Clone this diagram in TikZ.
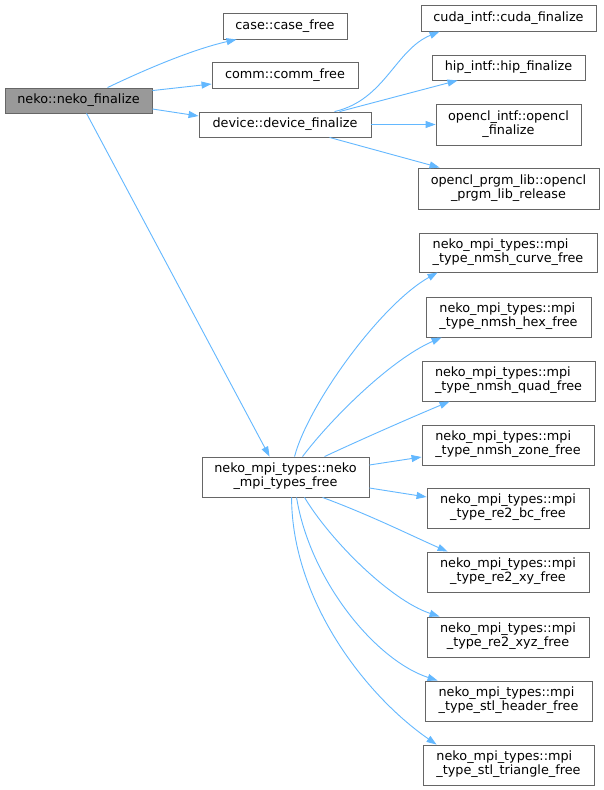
\documentclass[tikz,border=0pt]{standalone}
\usepackage{fontspec}
\setmainfont{DejaVu Sans}
\usetikzlibrary{arrows.meta}
\definecolor{edgeblue}{HTML}{63B8FF}
\definecolor{boxgray}{HTML}{666666}
\definecolor{rootfill}{HTML}{999999}
\newcommand\twol[2]{\begin{tabular}{@{}l@{}}#1\\\hfill#2\hfill\null\end{tabular}}
\begin{document}
\begin{tikzpicture}[x=1pt,y=-1pt,
 box/.style={draw=boxgray, line width=0.9pt, fill=white, inner sep=0pt, minimum height=25pt, font=\fontsize{12.8}{14}\selectfont, align=center},
 tall/.style={box, minimum height=40pt},
 link/.style={draw=edgeblue, line width=0.9pt, -{Triangle[length=10pt,width=7pt]}}]
\fill[white] (0,0) rectangle (604,790);
\useasboundingbox (0,0) rectangle (604,790);
\node[box, fill=rootfill, minimum width=147pt] (root) at (78.5,100.5) {neko::neko\_finalize};
\node[box, minimum width=124pt, minimum height=26pt] (case) at (285,26) {case::case\_free};
\node[box, minimum width=146pt, minimum height=26pt] (comm) at (285,75) {comm::comm\_free};
\node[box, minimum width=172pt] (device) at (285,124.5) {device::device\_finalize};
\node[box, minimum width=175pt, minimum height=26pt] (cuda) at (508.5,18) {cuda\_intf::cuda\_finalize};
\node[box, minimum width=153pt] (hip) at (508.5,67.5) {hip\_intf::hip\_finalize};
\node[tall, minimum width=145pt, minimum height=41pt] (oclintf) at (508.5,124.5) {\twol{opencl\_intf::opencl}{\_finalize}};
\node[tall, minimum width=181pt, minimum height=41pt] (oclprgm) at (508.5,188.5) {\twol{opencl\_prgm\_lib::opencl}{\_prgm\_lib\_release}};
\node[tall, minimum width=167pt] (mpifree) at (285.5,477) {\twol{neko\_mpi\_types::neko}{\_mpi\_types\_free}};
\node[tall, minimum width=178pt, minimum height=39pt] (curve) at (508,252.5) {\twol{neko\_mpi\_types::mpi}{\_type\_nmsh\_curve\_free}};
\node[tall, minimum width=165pt] (hex) at (508.5,317) {\twol{neko\_mpi\_types::mpi}{\_type\_nmsh\_hex\_free}};
\node[tall, minimum width=173pt] (quad) at (508.5,381) {\twol{neko\_mpi\_types::mpi}{\_type\_nmsh\_quad\_free}};
\node[tall, minimum width=172pt] (zone) at (508,445) {\twol{neko\_mpi\_types::mpi}{\_type\_nmsh\_zone\_free}};
\node[tall, minimum width=162pt] (re2bc) at (508,508) {\twol{neko\_mpi\_types::mpi}{\_type\_re2\_bc\_free}};
\node[tall, minimum width=162pt] (re2xy) at (508,572) {\twol{neko\_mpi\_types::mpi}{\_type\_re2\_xy\_free}};
\node[tall, minimum width=162pt] (re2xyz) at (508,637) {\twol{neko\_mpi\_types::mpi}{\_type\_re2\_xyz\_free}};
\node[tall, minimum width=167pt] (stlheader) at (508.5,701) {\twol{neko\_mpi\_types::mpi}{\_type\_stl\_header\_free}};
\node[tall, minimum width=171pt] (stltri) at (508.5,765) {\twol{neko\_mpi\_types::mpi}{\_type\_stl\_triangle\_free}};
\draw[link] ([xshift=103pt]root.north west) .. controls (140,72) and (190,50) .. ([xshift=14pt]case.south west);
\draw[link] ([yshift=-3pt]root.north east) -- ([yshift=-9pt]comm.west);
\draw[link] ([yshift=-8.5pt]root.east) -- ([yshift=8.5pt]device.west);
\draw[link] ([xshift=82pt]root.south west) -- ([xshift=68pt]mpifree.north west);
\draw[link] ([xshift=136pt]device.north west) .. controls (385,100) and (395,50) .. ([xshift=19pt]cuda.south west);
\draw[link] ([xshift=141pt]device.north west) -- ([xshift=26pt]hip.south west);
\draw[link] (device.east) -- (oclintf.west);
\draw[link] ([xshift=131pt]device.south west) -- ([xshift=22pt]oclprgm.north west);
\draw[link] ([xshift=93pt]mpifree.north west) .. controls (308,405) and (380,305) .. ([xshift=19pt]curve.south west);
\draw[link] ([xshift=101pt]mpifree.north west) .. controls (330,420) and (390,360) .. ([xshift=16pt]hex.south west);
\draw[link] ([xshift=123pt]mpifree.north west) .. controls (360,440) and (410,418) .. ([xshift=28pt]quad.south west);
\draw[link] ([yshift=12pt]mpifree.east) -- ([yshift=-12pt]zone.west);
\draw[link] ([yshift=-11pt]mpifree.east) -- ([yshift=11pt]re2bc.west);
\draw[link] ([xshift=121pt]mpifree.south west) .. controls (370,515) and (410,535) .. ([xshift=21pt]re2xy.north west);
\draw[link] ([xshift=103pt]mpifree.south west) .. controls (330,540) and (390,600) .. ([xshift=13pt]re2xyz.north west);
\draw[link] ([xshift=95pt]mpifree.south west) .. controls (310,580) and (375,660) .. ([xshift=13pt]stlheader.north west);
\draw[link] ([xshift=90pt]mpifree.south west) .. controls (292,600) and (365,695) .. ([xshift=14pt]stltri.north west);
\end{tikzpicture}
\end{document}
